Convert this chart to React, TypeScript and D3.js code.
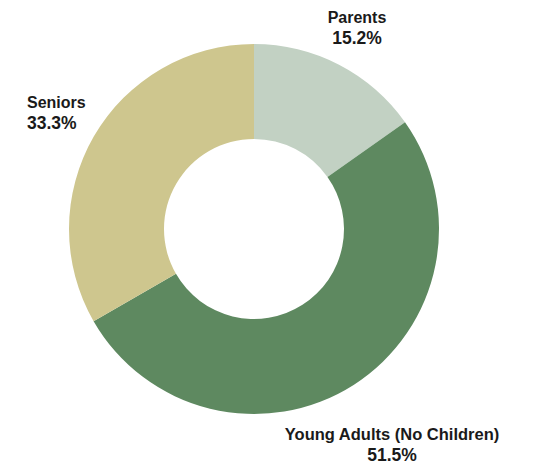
import React from "react";
import * as d3 from "d3";

const categories = ["Parents", "Young Adults (No Children)", "Seniors"];
const values = [15.2, 51.5, 33.3];
const colors = ["#c2d1c3", "#5e8960", "#cec68e"];
const valueLabels = ["15.2%", "51.5%", "33.3%"];

const W = 538;
const H = 464;
const cx = 254;
const cy = 229;
const outerR = 185;
const innerR = 90;

// label layout: [x, y of first baseline, anchor, fontSize]
const labelLayout: [number, number, "start" | "middle", number][] = [
  [357, 23, "middle", 16],
  [392, 440, "middle", 16.5],
  [27, 108, "start", 16],
];

export default function App() {
  const pie = d3
    .pie<number>()
    .sort(null)
    .value((d) => d)
    .startAngle(0)
    .endAngle(2 * Math.PI);
  const arcs = pie(values);
  const arcGen = d3.arc<d3.PieArcDatum<number>>().innerRadius(innerR).outerRadius(outerR);

  return (
    <div style={{ position: "fixed", left: 0, top: 0, width: W, height: H, background: "#fff" }}>
      <svg width={W} height={H} style={{ display: "block" }}>
        <rect width={W} height={H} fill="#fff" />
        <g transform={`translate(${cx},${cy})`}>
          {arcs.map((a, i) => (
            <path key={i} d={arcGen(a) || ""} fill={colors[i]} />
          ))}
        </g>
        {categories.map((c, i) => {
          const [x, y, anchor, fs] = labelLayout[i];
          return (
            <text
              key={c}
              x={x}
              y={y}
              textAnchor={anchor}
              fontFamily="'Liberation Sans', Arial, sans-serif"
              fontWeight="bold"
              fontSize={fs}
              fill="#1a1a1a"
            >
              <tspan x={x}>{c}</tspan>
              <tspan x={x} dy={21} fontSize={17.5}>
                {valueLabels[i]}
              </tspan>
            </text>
          );
        })}
      </svg>
    </div>
  );
}
